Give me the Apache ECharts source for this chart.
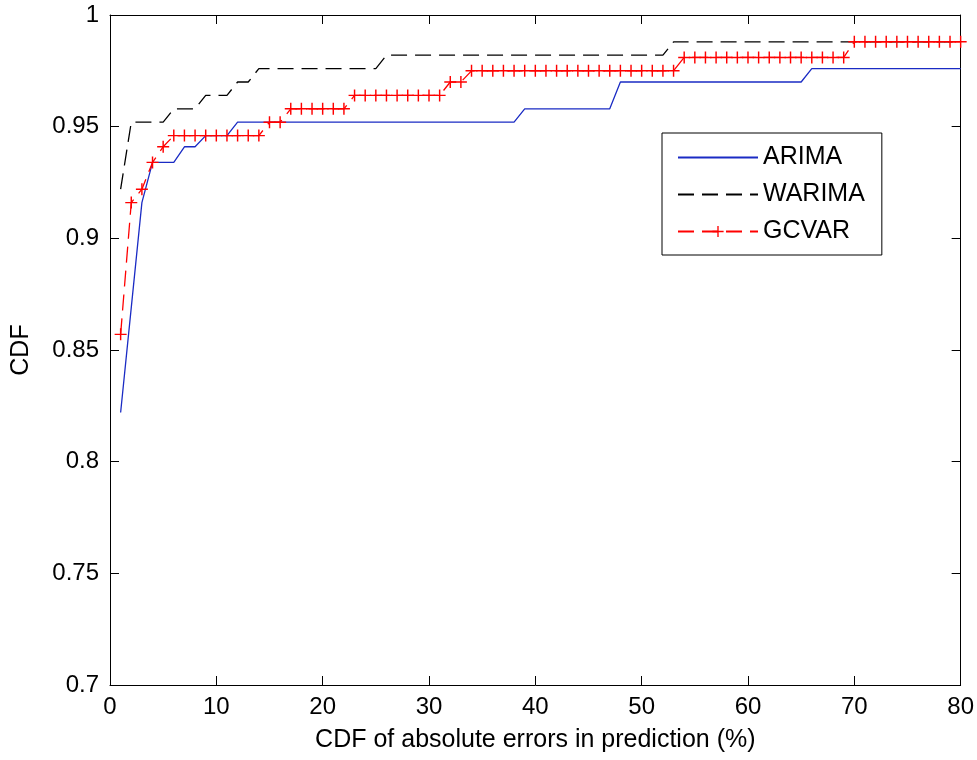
<!DOCTYPE html>
<html>
<head>
<meta charset="utf-8">
<title>CDF of absolute errors</title>
<script src="https://cdn.jsdelivr.net/npm/echarts@6/dist/echarts.min.js"></script>
<style>
  html, body { margin: 0; padding: 0; background: #fff; }
  #chart { width: 977px; height: 760px; }
</style>
</head>
<body>
<div id="chart"></div>
<script>
  // ===== 数据 =====
  const xs = [
    1, 2, 3, 4, 5, 6, 7, 8, 9, 10, 11, 12, 13, 14, 15, 16, 17, 18, 19, 20,
    21, 22, 23, 24, 25, 26, 27, 28, 29, 30, 31, 32, 33, 34, 35, 36, 37, 38, 39, 40,
    41, 42, 43, 44, 45, 46, 47, 48, 49, 50, 51, 52, 53, 54, 55, 56, 57, 58, 59, 60,
    61, 62, 63, 64, 65, 66, 67, 68, 69, 70, 71, 72, 73, 74, 75, 76, 77, 78, 79, 80
  ];
  const arima = [
    0.822, 0.869, 0.916, 0.934, 0.934, 0.934, 0.941, 0.941, 0.946, 0.946,
    0.946, 0.952, 0.952, 0.952, 0.952, 0.952, 0.952, 0.952, 0.952, 0.952,
    0.952, 0.952, 0.952, 0.952, 0.952, 0.952, 0.952, 0.952, 0.952, 0.952,
    0.952, 0.952, 0.952, 0.952, 0.952, 0.952, 0.952, 0.952, 0.958, 0.958,
    0.958, 0.958, 0.958, 0.958, 0.958, 0.958, 0.958, 0.970, 0.970, 0.970,
    0.970, 0.970, 0.970, 0.970, 0.970, 0.970, 0.970, 0.970, 0.970, 0.970,
    0.970, 0.970, 0.970, 0.970, 0.970, 0.976, 0.976, 0.976, 0.976, 0.976,
    0.976, 0.976, 0.976, 0.976, 0.976, 0.976, 0.976, 0.976, 0.976, 0.976
  ];
  const warima = [
    0.922, 0.952, 0.952, 0.952, 0.952, 0.958, 0.958, 0.958, 0.964, 0.964,
    0.964, 0.970, 0.970, 0.976, 0.976, 0.976, 0.976, 0.976, 0.976, 0.976,
    0.976, 0.976, 0.976, 0.976, 0.976, 0.982, 0.982, 0.982, 0.982, 0.982,
    0.982, 0.982, 0.982, 0.982, 0.982, 0.982, 0.982, 0.982, 0.982, 0.982,
    0.982, 0.982, 0.982, 0.982, 0.982, 0.982, 0.982, 0.982, 0.982, 0.982,
    0.982, 0.982, 0.988, 0.988, 0.988, 0.988, 0.988, 0.988, 0.988, 0.988,
    0.988, 0.988, 0.988, 0.988, 0.988, 0.988, 0.988, 0.988, 0.988, 0.988,
    0.988, 0.988, 0.988, 0.988, 0.988, 0.988, 0.988, 0.988, 0.988, 0.988
  ];
  const gcvar = [
    0.857, 0.916, 0.922, 0.934, 0.941, 0.946, 0.946, 0.946, 0.946, 0.946,
    0.946, 0.946, 0.946, 0.946, 0.952, 0.952, 0.958, 0.958, 0.958, 0.958,
    0.958, 0.958, 0.964, 0.964, 0.964, 0.964, 0.964, 0.964, 0.964, 0.964,
    0.964, 0.970, 0.970, 0.975, 0.975, 0.975, 0.975, 0.975, 0.975, 0.975,
    0.975, 0.975, 0.975, 0.975, 0.975, 0.975, 0.975, 0.975, 0.975, 0.975,
    0.975, 0.975, 0.975, 0.981, 0.981, 0.981, 0.981, 0.981, 0.981, 0.981,
    0.981, 0.981, 0.981, 0.981, 0.981, 0.981, 0.981, 0.981, 0.981, 0.988,
    0.988, 0.988, 0.988, 0.988, 0.988, 0.988, 0.988, 0.988, 0.988, 0.988
  ];
  const seriesNames = ["ARIMA", "WARIMA", "GCVAR"];
  const xLabel = "CDF of absolute errors in prediction (%)";
  const yLabel = "CDF";

  // ===== 样式 =====
  const FONT = "Liberation Sans, Arial, sans-serif";
  const FS = 24;      // 刻度
  const FS_NAME = 25; // 轴名 / 图例
  const PLUS = "path://M4.4,0H5.6V4.4H10V5.6H5.6V10H4.4V5.6H0V4.4H4.4Z";
  const pairs = ys => xs.map((x, i) => [x, ys[i]]);

  const axisLine = { show: true, onZero: false, lineStyle: { color: "#000", width: 1 } };
  const tickIn = { show: true, inside: true, length: 9, lineStyle: { color: "#000" } };

  const chart = echarts.init(document.getElementById("chart"), null, { renderer: "canvas" });
  chart.setOption({
    animation: false,
    backgroundColor: "#fff",
    textStyle: { fontFamily: FONT },
    grid: { left: 110, right: 16, top: 15, bottom: 75 },
    legend: {
      orient: "vertical",
      left: 662, top: 133,
      data: [
        { name: seriesNames[0], itemStyle: { opacity: 0 } },
        { name: seriesNames[1], itemStyle: { opacity: 0 } },
        { name: seriesNames[2] }
      ],
      itemWidth: 80, itemHeight: 14, itemGap: 12,
      padding: [12, 17, 11, 15],
      borderColor: "#000", borderWidth: 1,
      backgroundColor: "#fff",
      textStyle: { fontSize: FS_NAME, color: "#000", fontFamily: FONT }
    },
    xAxis: [
      {
        type: "value", min: 0, max: 80, interval: 10, position: "bottom",
        axisLine: axisLine, axisTick: tickIn, splitLine: { show: false },
        axisLabel: { fontSize: FS, color: "#000", margin: 10, fontFamily: FONT },
        name: xLabel, nameLocation: "middle", nameGap: 43,
        nameTextStyle: { fontSize: FS_NAME, color: "#000", fontFamily: FONT }
      },
      {
        type: "value", min: 0, max: 80, interval: 10, position: "top",
        axisLine: axisLine, axisTick: tickIn, splitLine: { show: false },
        axisLabel: { show: false }
      }
    ],
    yAxis: [
      {
        type: "value", min: 0.7, max: 1, interval: 0.05, position: "left",
        axisLine: axisLine, axisTick: tickIn, splitLine: { show: false },
        axisLabel: { fontSize: FS, color: "#000", margin: 11, fontFamily: FONT },
        name: yLabel, nameLocation: "middle", nameGap: 76, nameRotate: 90,
        nameTextStyle: { fontSize: FS_NAME, color: "#000", fontFamily: FONT }
      },
      {
        type: "value", min: 0.7, max: 1, interval: 0.05, position: "right",
        axisLine: axisLine, axisTick: tickIn, splitLine: { show: false },
        axisLabel: { show: false }
      }
    ],
    series: [
      {
        name: "ARIMA", type: "line", data: pairs(arima),
        symbol: "none", color: "#1a2bc4",
        lineStyle: { color: "#1a2bc4", width: 1.3 }
      },
      {
        name: "WARIMA", type: "line", data: pairs(warima),
        symbol: "none", color: "#000",
        lineStyle: { color: "#000", width: 1.3, type: [16, 8] }
      },
      {
        name: "GCVAR", type: "line", data: pairs(gcvar),
        symbol: PLUS, symbolSize: 12, showSymbol: true, showAllSymbol: true,
        color: "#ff0000",
        itemStyle: { color: "#ff0000" },
        lineStyle: { color: "#ff0000", width: 1.3, type: [16, 8] }
      }
    ]
  });
</script>
</body>
</html>
